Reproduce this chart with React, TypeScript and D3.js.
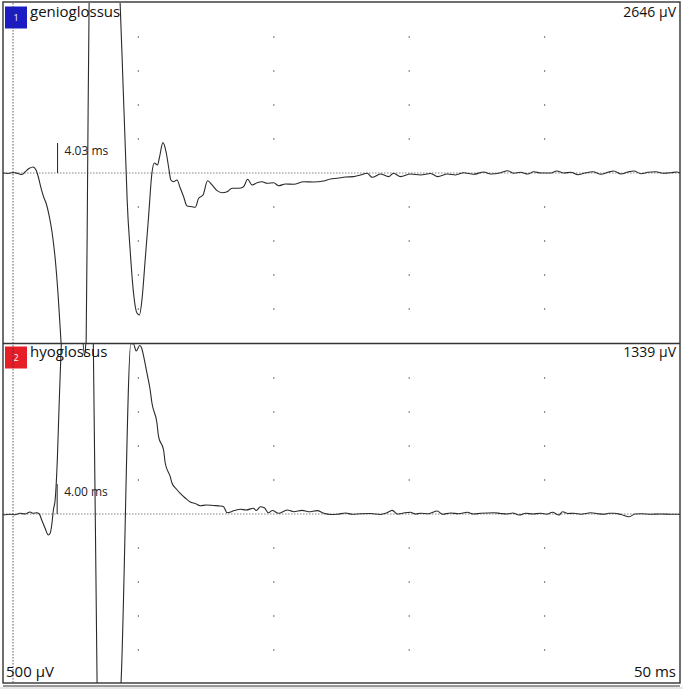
import { useEffect, useRef } from 'react';
import * as d3 from 'd3';

// sweep and scale
const SWEEP_MS = 50;
const UV_PER_DIV = 500;
const DIVS_HALF = 5;
const GRID_MS = [10, 20, 30, 40];
const GRID_UV = [-2000, -1500, -1000, -500, 500, 1000, 1500, 2000];
const STIM_MS = 0.74;

// channel 1: genioglossus (time ms, amplitude µV)
const ch1Time = [
  0.0, 0.37, 0.74, 1.11, 1.41, 1.63, 1.92, 2.22, 2.44, 2.59, 2.81, 3.03, 3.18, 3.4, 3.62, 3.85, 4.07,
  4.29, 4.51, 4.96, 5.47, 5.92, 6.14, 6.25, 6.36, 6.58, 7.17, 7.91, 8.43, 8.65, 8.88, 9.1, 9.17, 9.39,
  9.64, 9.89, 10.08, 10.26, 10.5, 10.75, 11.0, 11.17, 11.41, 11.56, 11.81, 12.06, 12.23, 12.4, 12.6,
  12.85, 13.09, 13.34, 13.59, 13.96, 14.2, 14.45, 14.77, 15.11, 15.44, 15.81, 16.18, 16.55, 16.92,
  17.4, 17.77, 18.07, 18.4, 18.77, 19.13, 19.5, 19.99, 20.36, 20.86, 21.47, 22.21, 22.93, 23.67,
  24.19, 24.68, 25.3, 25.89, 26.41, 26.9, 27.27, 27.88, 28.48, 28.85, 29.36, 30.1, 30.84, 31.58,
  32.1, 32.84, 33.43, 34.02, 34.76, 35.5, 36.02, 36.76, 37.28, 37.72, 38.24, 38.76, 39.2, 39.72,
  40.46, 40.9, 41.42, 41.94, 42.46, 42.97, 43.57, 44.16, 44.67, 45.12, 45.64, 46.15, 46.6, 47.12,
  47.63, 48.22, 48.74, 49.33, 49.78, 50.0,
];
const ch1Uv = [
  0, -7, 7, -7, -22, 15, 66, 88, 44, -44, -221, -368, -441, -618, -868, -1250, -1794,
  -2500, -3191, -3632, -3632, -3118, -2500, 0, 2500, 3721, 4750, 4309, 3279, 2500, 1221, 0, -397, -1132,
  -1765, -2059, -2088, -1868, -1279, -647, 0, 147, 118, 235, 446, 294, 88, -103, -128,
  -103, -221, -349, -485, -496, -504, -372, -324, -113, -176, -260, -290, -275, -225,
  -225, -201, -93, -176, -143, -128, -151, -143, -187, -162, -166, -128, -132, -118,
  -88, -78, -59, -54, -29, -4, -63, -15, -54, -4, -54, -15, -29, -7,
  -54, -15, -29, 4, -19, 15, -15, 4, 34, -4, 10, -15, 19, 0,
  0, 29, 0, 10, -25, 0, 19, -19, 10, 29, -15, 15, 29, -10,
  10, 19, -4, 4, 15, 0,
];

// channel 2: hyoglossus (time ms, amplitude µV)
const ch2Time = [
  0.0, 0.52, 0.89, 1.26, 1.63, 2.0, 2.24, 2.49, 2.68, 2.86, 3.11, 3.35, 3.48, 3.6, 3.72, 3.85, 4.02,
  4.14, 4.29, 4.31, 4.51, 5.1, 5.7, 6.03, 6.18, 6.36, 6.58, 6.67, 6.95, 7.17, 7.84, 8.43, 8.71, 9.45,
  9.52, 9.62, 9.84, 10.1, 10.24, 10.38, 10.63, 10.87, 11.0, 11.37, 11.49, 11.86, 11.98, 12.35, 12.48,
  12.8, 13.09, 13.46, 13.83, 14.2, 14.57, 15.01, 15.55, 16.04, 16.29, 16.55, 16.66, 17.09, 17.53,
  17.97, 18.49, 18.71, 19.01, 19.3, 19.6, 19.9, 20.36, 20.98, 21.47, 22.09, 22.58, 23.2, 23.69,
  24.19, 24.68, 25.3, 25.81, 26.41, 27.14, 27.88, 28.33, 28.75, 29.12, 29.59, 30.1, 30.47, 30.84,
  31.43, 32.08, 32.45, 33.06, 33.65, 34.3, 34.76, 35.28, 36.26, 36.76, 37.26, 37.65, 38.11, 38.61,
  39.13, 39.72, 40.16, 40.58, 41.07, 41.32, 41.72, 42.16, 42.68, 43.42, 43.93, 44.4, 44.75, 45.14,
  45.64, 46.25, 46.67, 47.12, 47.86, 48.59, 49.33, 50.0,
];
const ch2Uv = [
  -15, -4, -10, 10, 0, 29, 10, 19, 0, -88, -210, -309, -284, -162, 59, 206, 843,
  1578, 2412, 2515, 3147, 3735, 3147, 2324, 2706, 3147, 2706, 2515, -2515, -3324, -3765, -3324, -2515, 2515,
  2500, 2507, 2397, 2478, 2441, 2324, 2074, 1824, 1632, 1338, 1137, 941, 750, 549, 456,
  368, 304, 235, 176, 154, 122, 132, 125, 118, 107, 19, 22, 51, 69,
  59, 84, 51, 107, 93, 19, 51, 10, 59, 34, 54, 34, 49, 10,
  -7, -4, 15, -4, 4, 7, -7, 15, 54, 0, 15, 25, 0, 10,
  4, 44, -4, 15, 4, 25, 0, 10, 19, 7, 0, 15, -15, 10,
  0, 10, -4, 25, -15, 34, 7, 10, -4, 19, 4, -4, 10, 10,
  -7, -40, 0, 4, -4, 0, -4, -4,
];

const channelNames = ['genioglossus', 'hyoglossus'];
const channelColors = ['#1c1cc4', '#e61e28'];
const channelRanges = ['2646 µV', '1339 µV'];
const latencies = [4.03, 4.0];

const W = 683;
const H = 689;
const FONT = '"Open Sans", Lato, sans-serif';

export default function App() {
  const svgRef = useRef<SVGSVGElement>(null);

  useEffect(() => {
    if (!svgRef.current) return;
    const svg = d3.select(svgRef.current);
    svg.selectAll('*').remove();

    const left = 3;
    const right = 680;
    const panels = [
      { top: 3, base: 173, bottom: 343 },
      { top: 343, base: 514, bottom: 683 },
    ];
    const divPx = 34;

    const x = d3.scaleLinear().domain([0, SWEEP_MS]).range([left, right]);

    svg.append('rect').attr('width', W).attr('height', H).attr('fill', '#fff');

    const series = [
      ch1Time.map((t, i) => [t, ch1Uv[i]] as [number, number]),
      ch2Time.map((t, i) => [t, ch2Uv[i]] as [number, number]),
    ];

    panels.forEach((p, ci) => {
      const y = d3
        .scaleLinear()
        .domain([-UV_PER_DIV * DIVS_HALF, UV_PER_DIV * DIVS_HALF])
        .range([p.base + divPx * DIVS_HALF, p.base - divPx * DIVS_HALF]);

      const clipId = `clip-${ci}`;
      svg
        .append('clipPath')
        .attr('id', clipId)
        .append('rect')
        .attr('x', left)
        .attr('y', p.top)
        .attr('width', right - left)
        .attr('height', p.bottom - p.top);

      const g = svg.append('g');

      // grid dots
      GRID_MS.forEach((t) => {
        GRID_UV.forEach((v) => {
          g.append('rect')
            .attr('x', x(t) - 0.6)
            .attr('y', y(v) - 0.6)
            .attr('width', 1.2)
            .attr('height', 1.2)
            .attr('fill', '#444');
        });
      });

      // baseline
      g.append('line')
        .attr('x1', left)
        .attr('x2', right)
        .attr('y1', y(0))
        .attr('y2', y(0))
        .attr('stroke', '#333')
        .attr('stroke-width', 0.6)
        .attr('stroke-dasharray', '1.5,1.5');

      // latency marker
      g.append('line')
        .attr('x1', x(latencies[ci]))
        .attr('x2', x(latencies[ci]))
        .attr('y1', y(0))
        .attr('y2', y(0) - 30)
        .attr('stroke', '#222')
        .attr('stroke-width', 1);
      g.append('text')
        .attr('x', x(latencies[ci]) + 7)
        .attr('y', y(0) - 18)
        .attr('font-family', FONT)
        .attr('font-size', 12)
        .attr('fill', '#222')
        .text(`${latencies[ci].toFixed(2)} ms`);

      // trace
      const line = d3
        .line<[number, number]>()
        .x((d) => x(d[0]))
        .y((d) => y(d[1]))
        .curve(d3.curveMonotoneX);
      g.append('path')
        .datum(series[ci])
        .attr('clip-path', `url(#${clipId})`)
        .attr('d', line)
        .attr('fill', 'none')
        .attr('stroke', '#2a2a2a')
        .attr('stroke-width', 1.1);

      // channel badge + name
      g.append('rect')
        .attr('x', 5)
        .attr('y', p.top + 3.5)
        .attr('width', 22)
        .attr('height', 22)
        .attr('fill', channelColors[ci]);
      g.append('text')
        .attr('x', 16)
        .attr('y', p.top + 18)
        .attr('text-anchor', 'middle')
        .attr('font-family', FONT)
        .attr('font-size', 9)
        .attr('fill', '#fff')
        .text(String(ci + 1));
      g.append('text')
        .attr('x', 30)
        .attr('y', p.top + 14)
        .attr('font-family', FONT)
        .attr('font-size', 15)
        .attr('fill', '#111')
        .text(channelNames[ci]);
      g.append('text')
        .attr('x', right - 4)
        .attr('y', p.top + 14)
        .attr('text-anchor', 'end')
        .attr('font-family', FONT)
        .attr('font-size', 14)
        .attr('fill', '#111')
        .text(channelRanges[ci]);
    });

    // stimulus marker
    svg.append('line')
      .attr('x1', x(STIM_MS))
      .attr('x2', x(STIM_MS))
      .attr('y1', 3)
      .attr('y2', 683)
      .attr('stroke', '#333')
      .attr('stroke-width', 0.8)
      .attr('stroke-dasharray', '1.5,1.5');

    // frame
    const frame = svg.append('g').attr('stroke', '#333').attr('fill', 'none');
    frame.append('rect').attr('x', left).attr('y', 2).attr('width', right - left).attr('height', 681).attr('stroke-width', 1.4);
    frame.append('line').attr('x1', left).attr('x2', right).attr('y1', 343.5).attr('y2', 343.5).attr('stroke-width', 1.4);
    frame.append('line').attr('x1', left).attr('x2', right).attr('y1', 686).attr('y2', 686).attr('stroke-width', 1);
    svg.append('rect').attr('x', 0).attr('y', 687).attr('width', W).attr('height', 2).attr('fill', '#e6e6e6');

    // scale labels
    svg.append('text')
      .attr('x', 6)
      .attr('y', 677)
      .attr('font-family', FONT)
      .attr('font-size', 15)
      .attr('fill', '#111')
      .text(`${UV_PER_DIV} µV`);
    svg.append('text')
      .attr('x', right - 4)
      .attr('y', 677)
      .attr('text-anchor', 'end')
      .attr('font-family', FONT)
      .attr('font-size', 15)
      .attr('fill', '#111')
      .text(`${SWEEP_MS} ms`);
  }, []);

  return (
    <svg
      ref={svgRef}
      width={W}
      height={H}
      style={{ position: 'absolute', left: 0, top: 0, display: 'block' }}
    />
  );
}
